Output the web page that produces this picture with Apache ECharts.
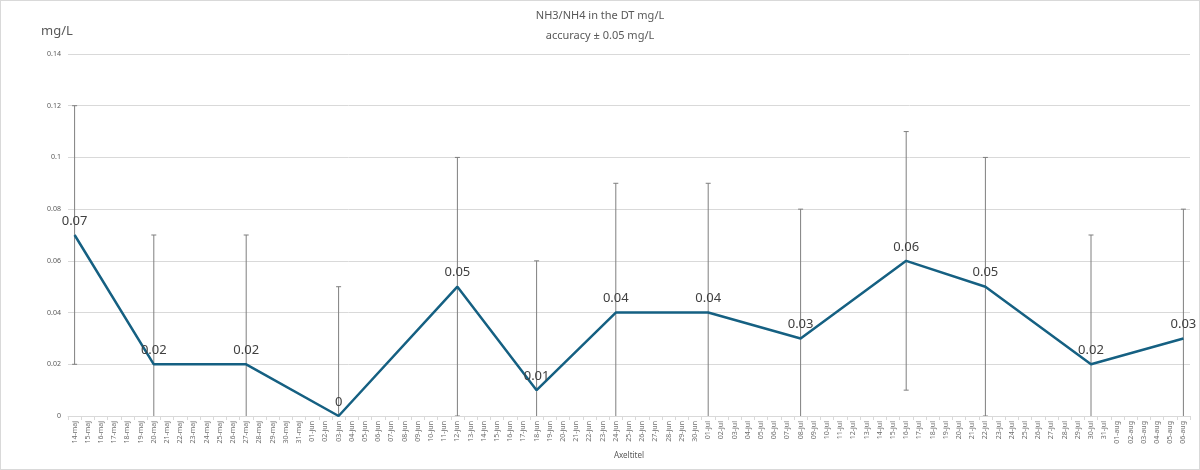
<!DOCTYPE html>
<html>
<head>
<meta charset="utf-8">
<script src="https://cdn.jsdelivr.net/npm/echarts@6/dist/echarts.min.js"></script>
<style>
  html, body { margin: 0; padding: 0; background: #fff; }
  #chart { width: 1200px; height: 470px; box-sizing: border-box; border: 1px solid #d9d9d9; }
</style>
</head>
<body>
<div id="chart"></div>
<script>
// Category labels (daily, 14-maj .. 06-aug)
var categories = [
  '14-maj','15-maj','16-maj','17-maj','18-maj','19-maj','20-maj','21-maj','22-maj','23-maj','24-maj','25-maj','26-maj','27-maj','28-maj','29-maj','30-maj','31-maj',
  '01-jun','02-jun','03-jun','04-jun','05-jun','06-jun','07-jun','08-jun','09-jun','10-jun','11-jun','12-jun','13-jun','14-jun','15-jun','16-jun','17-jun','18-jun','19-jun','20-jun','21-jun','22-jun','23-jun','24-jun','25-jun','26-jun','27-jun','28-jun','29-jun','30-jun',
  '01-jul','02-jul','03-jul','04-jul','05-jul','06-jul','07-jul','08-jul','09-jul','10-jul','11-jul','12-jul','13-jul','14-jul','15-jul','16-jul','17-jul','18-jul','19-jul','20-jul','21-jul','22-jul','23-jul','24-jul','25-jul','26-jul','27-jul','28-jul','29-jul','30-jul','31-jul',
  '01-aug','02-aug','03-aug','04-aug','05-aug','06-aug'
];
// Measurement dates and values (mg/L)
var sampleDates = ['14-maj','20-maj','27-maj','03-jun','12-jun','18-jun','24-jun','01-jul','08-jul','16-jul','22-jul','30-jul','06-aug'];
var sampleValues = [0.07, 0.02, 0.02, 0, 0.05, 0.01, 0.04, 0.04, 0.03, 0.06, 0.05, 0.02, 0.03];
// Accuracy (error bar half-width), mg/L
var accuracy = 0.05;
// Y tick labels
var yTicks = [0, 0.02, 0.04, 0.06, 0.08, 0.1, 0.12, 0.14];

var lineData = categories.map(function () { return null; });
var errData = [];
sampleDates.forEach(function (d, i) {
  var idx = categories.indexOf(d);
  lineData[idx] = sampleValues[i];
  errData.push([idx, sampleValues[i] - accuracy, sampleValues[i] + accuracy]);
});

var chart = echarts.init(document.getElementById('chart'), null, { renderer: 'canvas' });
var font = 'Noto Sans, Liberation Sans, sans-serif';
chart.setOption({
  animation: false,
  textStyle: { fontFamily: font },
  title: [
    { text: 'NH3/NH4 in the DT mg/L', left: 'center', top: 4,
      textStyle: { fontSize: 11, fontWeight: 'normal', color: '#595959', fontFamily: font } },
    { text: 'accuracy \u00B1 0.05 mg/L', left: 'center', top: 24,
      textStyle: { fontSize: 11, fontWeight: 'normal', color: '#595959', fontFamily: font } }
  ],
  graphic: [
    { type: 'text', left: 40, top: 24, style: { text: 'mg/L', fontSize: 13, fill: '#595959', fontFamily: font } }
  ],
  grid: { left: 67, right: 9, top: 53, bottom: 53, containLabel: false },
  xAxis: {
    type: 'category',
    data: categories,
    boundaryGap: true,
    name: 'Axeltitel',
    nameLocation: 'middle',
    nameGap: 35,
    nameTextStyle: { fontSize: 8, color: '#595959' },
    axisLine: { lineStyle: { color: '#d9d9d9' } },
    axisTick: { show: true, interval: 0, length: 4, lineStyle: { color: '#d9d9d9' } },
    axisLabel: { interval: 0, rotate: 90, fontSize: 7, color: '#6e6e6e', margin: 5 },
    splitLine: { show: false }
  },
  yAxis: {
    type: 'value',
    min: yTicks[0],
    max: yTicks[yTicks.length - 1],
    interval: 0.02,
    axisLine: { show: false },
    axisTick: { show: false },
    axisLabel: { fontSize: 7, color: '#595959', margin: 7,
      formatter: function (v) { return String(parseFloat(v.toFixed(2))); } },
    splitLine: { lineStyle: { color: '#d9d9d9', width: 1 } }
  },
  series: [
    {
      type: 'custom',
      clip: true,
      data: errData,
      z: 1,
      renderItem: function (params, api) {
        var x = api.value(0);
        var lo = api.coord([x, api.value(1)]);
        var hi = api.coord([x, api.value(2)]);
        var c = 2.5;
        var st = { stroke: '#7f7f7f', lineWidth: 1 };
        return {
          type: 'group',
          children: [
            { type: 'line', shape: { x1: hi[0], y1: hi[1], x2: lo[0], y2: lo[1] }, style: st },
            { type: 'line', shape: { x1: hi[0] - c, y1: hi[1], x2: hi[0] + c, y2: hi[1] }, style: st },
            { type: 'line', shape: { x1: lo[0] - c, y1: lo[1], x2: lo[0] + c, y2: lo[1] }, style: st }
          ]
        };
      }
    },
    {
      type: 'line',
      data: lineData,
      connectNulls: true,
      z: 2,
      symbol: 'circle',
      symbolSize: 1,
      showSymbol: true,
      showAllSymbol: true,
      itemStyle: { color: 'rgba(21,96,130,0)' },
      lineStyle: { color: '#156082', width: 2.5 },
      label: {
        show: true, position: 'top', distance: 7,
        fontSize: 13, color: '#404040', fontFamily: font,
        formatter: function (p) { return p.value == null ? '' : String(p.value); }
      }
    }
  ]
});
</script>
</body>
</html>
